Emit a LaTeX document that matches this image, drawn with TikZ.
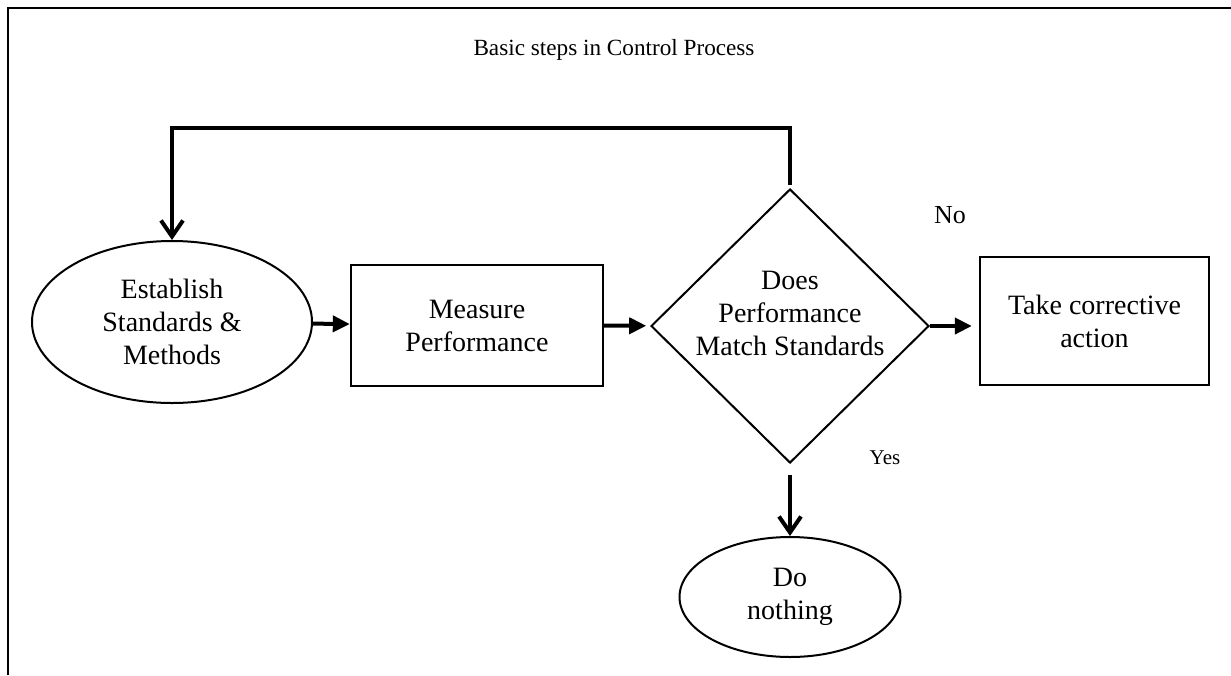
\documentclass[tikz,border=0pt]{standalone}
\usepackage{fontspec}
\setmainfont{Liberation Serif}
\usetikzlibrary{shapes.geometric,arrows.meta}
\begin{document}
\begin{tikzpicture}[x=0.5pt,y=-0.5pt,
  txt/.style={font=\fontsize{14}{16.5}\selectfont, align=center},
  ellnode/.style={ellipse, draw, line width=1pt, inner sep=0pt, txt},
  boxnode/.style={rectangle, draw, line width=1.2pt, inner sep=0pt, txt},
  decnode/.style={diamond, draw, line width=1pt, inner sep=0pt},
  harr/.style={line width=2pt, -{Triangle[length=8.5pt,width=8pt]}},
  varr/.style={line width=2pt, -{Straight Barb[length=8pt,width=11pt,line width=2pt]}},
  frame/.style={line width=1.4pt}]
\useasboundingbox (0,0) rectangle (1231,675);
\draw[frame] (8,675) -- (8,8) -- (1231,8);

\node[font=\fontsize{11.6}{14}\selectfont] (title) at (614,50) {Basic steps in Control Process};

\node[ellnode, minimum width=140pt, minimum height=81pt] (est) at (172,322) {Establish\\Standards \&\\Methods};
\node[boxnode, minimum width=126pt, minimum height=60.5pt] (meas) at (477,325.5) {Measure\\Performance};
\node[decnode, minimum width=139pt, minimum height=137pt] (dec) at (790,326) {};
\node[txt] (dectext) at (790,313) {Does\\Performance\\Match Standards};
\node[boxnode, minimum width=114.5pt, minimum height=64pt] (take) at (1094.5,321) {Take corrective\\action};
\node[ellnode, minimum width=110.5pt, minimum height=60pt] (noth) at (790,597) {Do\\nothing};

\node[font=\fontsize{13}{15}\selectfont] (no) at (950,215) {No};
\node[font=\fontsize{10.5}{13}\selectfont] (yes) at (885,458) {Yes};

\coordinate (fbtop) at (790,128);

\draw[harr] (est) -- (meas);
\draw[harr, shorten >=2pt] (meas) -- (dec);
\draw[harr, shorten >=3.5pt] (dec.east) -- (take.west |- dec.east);
\draw[varr, shorten <=5.5pt] (dec.south) -- (noth.north);
\draw[varr, shorten <=1.5pt] (dec.north) -- (fbtop) -| (est.north);
\end{tikzpicture}
\end{document}
